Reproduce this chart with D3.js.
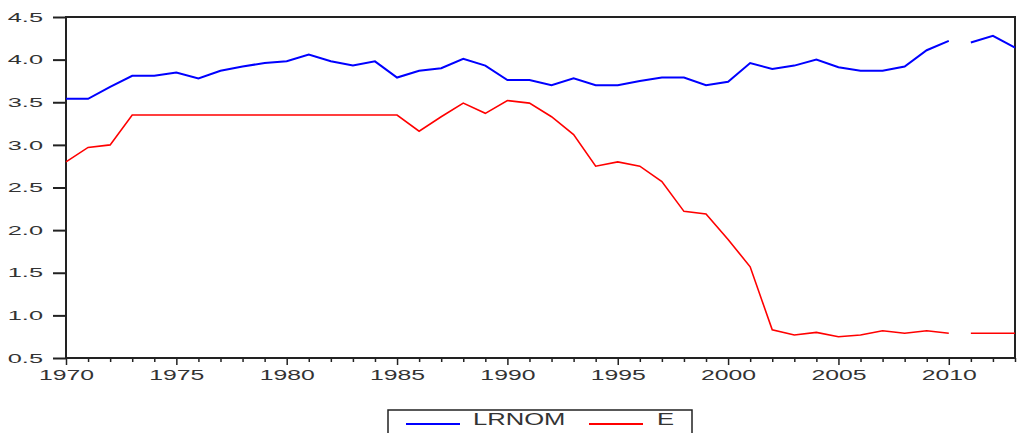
<!DOCTYPE html>
<meta charset="utf-8">
<style>
body { margin: 0; background: #fff; }
svg text { font-family: "Liberation Sans", Arial, sans-serif; fill: #333; }
</style>
<body>
<svg id="chart" width="1017" height="433"></svg>
<script src="https://d3js.org/d3.v7.min.js"></script>
<script>
// annual observations, 1970-2013
var years = d3.range(1970, 2014);
var lrnom = [3.54, 3.54, 3.68, 3.81, 3.81, 3.85, 3.78, 3.87, 3.92, 3.96,
             3.98, 4.06, 3.98, 3.93, 3.98, 3.79, 3.87, 3.90, 4.01, 3.93,
             3.76, 3.76, 3.70, 3.78, 3.70, 3.70, 3.75, 3.79, 3.79, 3.70,
             3.74, 3.96, 3.89, 3.93, 4.00, 3.91, 3.87, 3.87, 3.92, 4.11,
             4.22, 4.20, 4.28, 4.14];
var e = [2.80, 2.97, 3.00, 3.35, 3.35, 3.35, 3.35, 3.35, 3.35, 3.35,
         3.35, 3.35, 3.35, 3.35, 3.35, 3.35, 3.16, 3.33, 3.49, 3.37,
         3.52, 3.49, 3.33, 3.12, 2.75, 2.80, 2.75, 2.57, 2.22, 2.19,
         1.89, 1.57, 0.83, 0.77, 0.80, 0.75, 0.77, 0.82, 0.79, 0.82,
         0.79, 0.79, 0.79, 0.79];
var yTicks = [0.5, 1.0, 1.5, 2.0, 2.5, 3.0, 3.5, 4.0, 4.5];
var seriesNames = ["LRNOM", "E"];
var gapAfter = 2010; // lines break between 2010 and 2011

var svg = d3.select("#chart");
var plotLeft = 66, plotRight = 1015, plotTop = 17, plotBottom = 358;

var x = d3.scaleLinear().domain([1970, 2013]).range([plotLeft, plotRight]);
var y = d3.scaleLinear().domain([0.5, 4.5]).range([plotBottom, plotTop]);

// stretch text horizontally like the source image
function stretch(sel, k) {
  sel.each(function() {
    var w = this.getComputedTextLength();
    if (w > 0) d3.select(this).attr("textLength", w * k).attr("lengthAdjust", "spacingAndGlyphs");
  });
}

// y axis
var yAxis = svg.append("g")
    .attr("transform", "translate(" + plotLeft + ",0)")
    .call(d3.axisLeft(y).tickValues(yTicks).tickSize(13).tickPadding(10).tickFormat(d3.format(".1f")));
yAxis.select(".domain").remove();
yAxis.selectAll("line").attr("stroke", "#222").attr("stroke-width", 2);
yAxis.selectAll("text").style("font-size", "13px").attr("fill", "#333");
stretch(yAxis.selectAll("text"), 1.95);

// x axis
var xAxis = svg.append("g")
    .attr("transform", "translate(0," + plotBottom + ")")
    .call(d3.axisBottom(x).tickValues(years).tickSize(4)
      .tickFormat(function(d) { return d % 5 === 0 ? d : ""; }));
xAxis.select(".domain").remove();
xAxis.selectAll("line")
    .attr("stroke", "#222").attr("stroke-width", 1.5)
    .attr("y2", function(d) { return d % 5 === 0 ? 7 : 4; });
xAxis.selectAll("text").style("font-size", "15px").attr("y", 22).attr("dy", 0).attr("fill", "#333");
stretch(xAxis.selectAll("text"), 1.65);

// frame
svg.append("rect")
    .attr("x", plotLeft).attr("y", plotTop)
    .attr("width", plotRight - plotLeft).attr("height", plotBottom - plotTop)
    .attr("fill", "none").attr("stroke", "#222").attr("stroke-width", 2);

// lines
var line = d3.line()
    .x(function(d) { return x(d.year); })
    .y(function(d) { return y(d.value); });

function drawSeries(values, color, width) {
  var pts = years.map(function(yr, i) { return {year: yr, value: values[i]}; });
  var segs = [pts.filter(function(d) { return d.year <= gapAfter; }),
              pts.filter(function(d) { return d.year > gapAfter; })];
  svg.append("g").selectAll("path")
    .data(segs)
    .enter().append("path")
      .attr("d", line)
      .attr("fill", "none")
      .attr("stroke", color)
      .attr("stroke-width", width);
}

drawSeries(lrnom, "#0000ff", 2);
drawSeries(e, "#ff0000", 1.6);

// legend
var legend = svg.append("g");
legend.append("rect")
    .attr("x", 388).attr("y", 410).attr("width", 304).attr("height", 40)
    .attr("fill", "#fff").attr("stroke", "#222").attr("stroke-width", 1.5);
var items = [
  {name: seriesNames[0], color: "#0000ff", x0: 406, tx: 473},
  {name: seriesNames[1], color: "#ff0000", x0: 589, tx: 657}
];
items.forEach(function(it) {
  legend.append("line")
      .attr("x1", it.x0).attr("x2", it.x0 + 54)
      .attr("y1", 424).attr("y2", 424)
      .attr("stroke", it.color).attr("stroke-width", 2);
  var t = legend.append("text")
      .attr("x", it.tx).attr("y", 425)
      .style("font-size", "16px").attr("fill", "#222")
      .text(it.name);
  stretch(t, 1.6);
});
</script>
</body>
